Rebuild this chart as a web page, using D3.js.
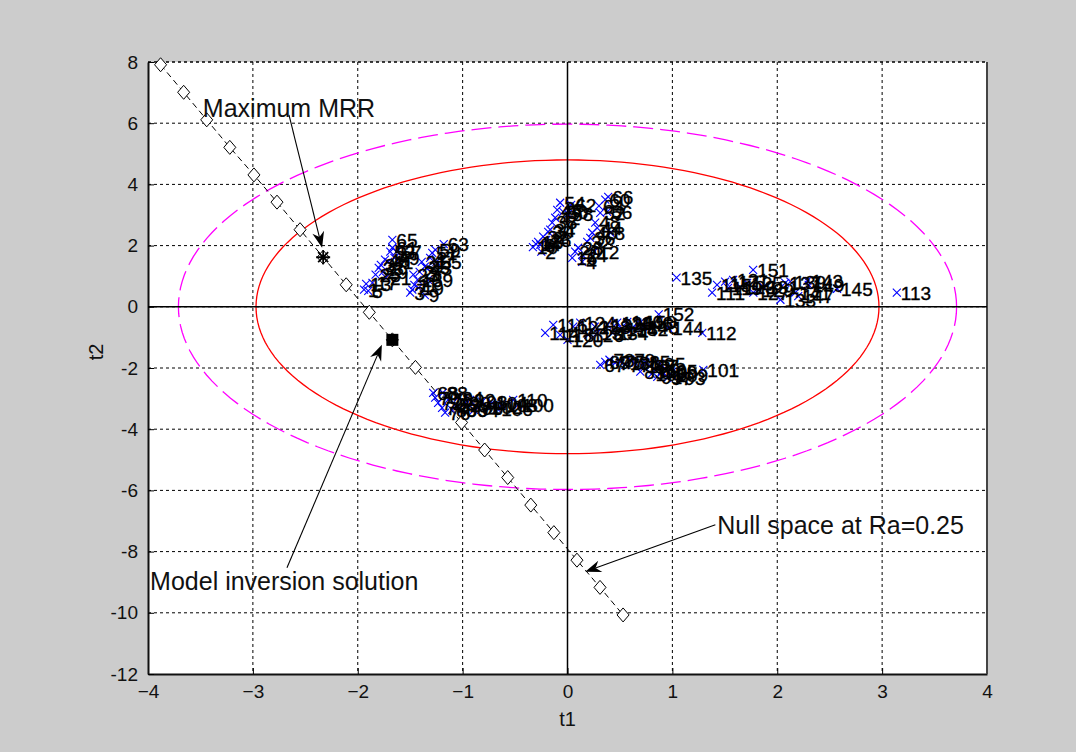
<!DOCTYPE html>
<html>
<head>
<meta charset="utf-8">
<script src="https://cdnjs.cloudflare.com/ajax/libs/d3/7.8.5/d3.min.js"></script>
<style>
body { margin: 0; background: #cccccc; }
text { font-family: "Liberation Sans", Arial, sans-serif; }
</style>
</head>
<body>
<script>
// Step 1: data
//= ================================

var xTicks = [-4, -3, -2, -1, 0, 1, 2, 3, 4];
var yTicks = [-12, -10, -8, -6, -4, -2, 0, 2, 4, 6, 8];

// [t1, t2, run number]
var clusterA = [
  [-1.94, 0.56, 1], [-1.50, 0.46, 3], [-1.90, 0.52, 5], [-1.48, 0.56, 7], [-1.36, 0.38, 9],
  [-1.46, 0.72, 11], [-1.92, 0.75, 13], [-1.43, 0.88, 15], [-1.86, 0.78, 17], [-1.42, 0.62, 19],
  [-1.73, 0.95, 21], [-1.47, 1.05, 23], [-1.83, 1.05, 25], [-1.41, 1.14, 27], [-1.76, 1.14, 29],
  [-1.39, 1.47, 31], [-1.80, 1.27, 33], [-1.36, 1.31, 35], [-1.78, 1.37, 37], [-1.33, 0.88, 39],
  [-1.71, 1.47, 41], [-1.34, 1.27, 43], [-1.74, 1.54, 45], [-1.31, 1.60, 47], [-1.65, 1.60, 49],
  [-1.29, 1.76, 51], [-1.69, 1.80, 53], [-1.25, 1.47, 55], [-1.63, 1.80, 57], [-1.26, 1.86, 59],
  [-1.67, 1.93, 61], [-1.18, 2.05, 63], [-1.67, 2.19, 65]
];
var clusterB = [
  [-0.25, 1.80, 2], [0.14, 1.47, 4], [-0.26, 2.03, 6], [0.41, 2.42, 8], [-0.33, 1.95, 10],
  [0.255, 1.80, 12], [-0.30, 2.05, 14], [0.045, 1.60, 16], [-0.28, 2.12, 18], [0.073, 1.80, 20],
  [-0.232, 2.29, 22], [0.14, 1.70, 24], [-0.203, 2.19, 26], [0.102, 1.93, 28], [-0.184, 2.45, 30],
  [0.188, 2.12, 32], [-0.165, 2.52, 34], [0.217, 2.25, 36], [-0.146, 2.75, 38], [0.236, 2.42, 40],
  [-0.117, 2.91, 42], [0.283, 2.58, 44], [-0.098, 3.17, 46], [0.264, 2.75, 48], [-0.041, 3.10, 50],
  [0.312, 3.07, 52], [-0.07, 3.40, 54], [0.379, 3.10, 56], [0.007, 3.04, 58], [0.36, 3.50, 60],
  [0.035, 3.33, 62], [0.30, 3.30, 64], [0.388, 3.59, 66]
];
var clusterE = [
  [0.312, -1.90, 67], [0.36, -1.80, 69], [0.455, -1.83, 71], [0.40, -1.73, 73], [0.503, -1.80, 75],
  [0.551, -1.90, 77], [0.598, -1.73, 79], [0.646, -1.83, 81], [0.694, -2.12, 83], [0.741, -1.80, 85],
  [0.789, -1.93, 87], [0.837, -2.06, 89], [0.856, -2.29, 91], [1.076, -2.32, 93], [0.885, -1.86, 95],
  [0.951, -2.32, 97], [0.999, -2.12, 99], [1.295, -2.06, 101], [0.80, -2.20, 103], [0.90, -2.10, 105],
  [0.72, -1.95, 107], [1.00, -2.25, 109]
];
var clusterF = [
  [-1.281, -2.81, 68], [-1.262, -2.97, 70], [-1.234, -3.14, 72], [-1.196, -3.30, 74], [-1.167, -3.46, 76],
  [-1.138, -3.04, 78], [-1.10, -3.37, 80], [-1.072, -3.20, 82], [-1.043, -2.97, 84], [-1.005, -3.37, 86],
  [-1.19, -2.81, 88], [-0.976, -3.14, 90], [-0.929, -3.04, 92], [-0.891, -3.37, 94], [-0.853, -3.30, 96],
  [-0.814, -3.10, 98], [-0.471, -3.20, 100], [-0.767, -3.27, 102], [-0.719, -3.14, 104], [-0.671, -3.33, 106],
  [-0.623, -3.20, 108], [-0.518, -3.04, 110]
];
var clusterC = [
  [1.379, 0.46, 111], [3.14, 0.46, 113], [1.426, 0.72, 115], [1.503, 0.82, 117], [1.531, 0.62, 119],
  [1.579, 0.88, 121], [1.646, 0.65, 123], [1.713, 0.78, 125], [1.772, 0.46, 127], [1.820, 0.56, 129],
  [1.867, 0.65, 131], [2.030, 0.23, 133], [1.04, 0.95, 135], [2.077, 0.78, 137], [2.125, 0.82, 139],
  [2.172, 0.46, 141], [2.287, 0.85, 143], [2.57, 0.59, 145], [2.20, 0.35, 147], [2.30, 0.72, 149],
  [1.77, 1.21, 151]
];
var clusterD = [
  [1.285, -0.85, 112], [-0.213, -0.85, 114], [-0.136, -0.59, 116], [-0.07, -0.92, 118], [0.0, -1.08, 120],
  [0.055, -0.65, 122], [0.121, -0.52, 124], [0.198, -0.92, 126], [0.26, -0.65, 128], [0.283, -0.85, 130],
  [0.379, -0.59, 132], [0.43, -0.85, 134], [0.474, -0.52, 136], [0.52, -0.72, 138], [0.570, -0.49, 140],
  [0.62, -0.72, 142], [0.96, -0.69, 144], [0.665, -0.52, 146], [0.72, -0.65, 148], [0.70, -0.49, 150],
  [0.87, -0.25, 152]
];

// null space at Ra=0.25
var nullSpaceT1 = [-3.88, -3.66, -3.44, -3.22, -2.99, -2.77, -2.55, -2.33, -2.11, -1.89, -1.67,
                   -1.45, -1.23, -1.01, -0.79, -0.57, -0.35, -0.13, 0.09, 0.31, 0.53];
var nullSpaceT2 = [7.91, 7.01, 6.11, 5.21, 4.31, 3.42, 2.52, 1.62, 0.72, -0.18, -1.08,
                   -1.98, -2.88, -3.78, -4.68, -5.58, -6.48, -7.38, -8.28, -9.17, -10.07];

var maxMRR = [-2.33, 1.62];
var inversion = [-1.67, -1.08];

// confidence ellipses [semi axis t1, semi axis t2]
var innerEllipse = [2.97, 4.80];
var outerEllipse = [3.71, 5.97];

var noteText = ["Maximum MRR", "Model inversion solution", "Null space at Ra=0.25"];
var notePos = [[-3.477, 6.21], [-3.98, -9.25], [1.428, -7.42]];
var arrowTail = [[-2.656, 6.27], [-2.675, -8.53], [1.41, -7.12]];
var arrowTip = [[-2.34, 1.93], [-1.77, -1.24], [0.169, -8.66]];

// Step 2: set up the chart
//= ================================
var width = 1076, height = 752;
var plot = {left: 148, right: 987, top: 62, bottom: 674};

var svg = d3.select("body")
    .append("svg")
    .attr("width", width)
    .attr("height", height)
    .style("background", "#cccccc");

var x = d3.scaleLinear().domain([-4, 4]).range([plot.left, plot.right]);
var y = d3.scaleLinear().domain([-12, 8]).range([plot.bottom, plot.top]);

svg.append("rect")
    .attr("x", plot.left)
    .attr("y", plot.top)
    .attr("width", plot.right - plot.left)
    .attr("height", plot.bottom - plot.top)
    .attr("fill", "white");

// grid (the top edge is the y=8 grid line)
svg.append("g").selectAll("line")
    .data(xTicks.slice(1, -1))
    .enter().append("line")
    .attr("x1", function(d) { return x(d); })
    .attr("x2", function(d) { return x(d); })
    .attr("y1", plot.top)
    .attr("y2", plot.bottom)
    .attr("stroke", "black")
    .attr("stroke-dasharray", "3,3");
svg.append("g").selectAll("line")
    .data(yTicks.slice(1))
    .enter().append("line")
    .attr("x1", plot.left)
    .attr("x2", plot.right)
    .attr("y1", function(d) { return y(d); })
    .attr("y2", function(d) { return y(d); })
    .attr("stroke", "black")
    .attr("stroke-width", function(d) { return d == 8 ? 1.6 : 1; })
    .attr("stroke-dasharray", "3,3");

// axes
var xAxis = svg.append("g")
    .attr("transform", "translate(0," + plot.bottom + ")")
    .call(d3.axisBottom(x).tickValues(xTicks).tickSizeInner(-6).tickSizeOuter(0).tickPadding(11)
      .tickFormat(d3.format("d")));
var yAxis = svg.append("g")
    .attr("transform", "translate(" + plot.left + ",0)")
    .call(d3.axisLeft(y).tickValues(yTicks).tickSizeInner(-6).tickSizeOuter(0).tickPadding(10)
      .tickFormat(function(d) { return d < 0 ? "-" + Math.abs(d) : d; }));
xAxis.selectAll("text").style("font-size", "19px").attr("fill", "#111");
yAxis.selectAll("text").style("font-size", "19px").attr("fill", "#111");
svg.selectAll(".domain").attr("stroke", "#111").attr("stroke-width", 2);
svg.append("line")
    .attr("x1", plot.right).attr("x2", plot.right)
    .attr("y1", plot.top).attr("y2", plot.bottom)
    .attr("stroke", "#444").attr("stroke-width", 2);

// ellipses
function ellipse(r) {
  return d3.range(0, 361, 2).map(function(a) {
    var t = a * Math.PI / 180;
    return [r[0] * Math.cos(t), r[1] * Math.sin(t)];
  });
}
var curve = d3.line()
    .x(function(d) { return x(d[0]); })
    .y(function(d) { return y(d[1]); });
svg.append("path")
    .attr("d", curve(ellipse(outerEllipse)))
    .attr("fill", "none")
    .attr("stroke", "#ff00ff")
    .attr("stroke-width", 1.3)
    .attr("stroke-dasharray", "20,7");
svg.append("path")
    .attr("d", curve(ellipse(innerEllipse)))
    .attr("fill", "none")
    .attr("stroke", "#ff0000")
    .attr("stroke-width", 1.3);

// zero lines
svg.append("line")
    .attr("x1", plot.left).attr("x2", plot.right)
    .attr("y1", y(0)).attr("y2", y(0))
    .attr("stroke", "black").attr("stroke-width", 1.5);
svg.append("line")
    .attr("x1", x(0)).attr("x2", x(0))
    .attr("y1", plot.top).attr("y2", plot.bottom)
    .attr("stroke", "black").attr("stroke-width", 1.5);

// null space line with diamonds
var nullSpace = nullSpaceT1.map(function(d, i) { return [d, nullSpaceT2[i]]; });
svg.append("path")
    .attr("d", curve(nullSpace))
    .attr("fill", "none")
    .attr("stroke", "black")
    .attr("stroke-dasharray", "6,4");
svg.append("g").selectAll("path")
    .data(nullSpace)
    .enter().append("path")
    .attr("transform", function(d) { return "translate(" + x(d[0]) + "," + y(d[1]) + ")"; })
    .attr("d", "M0,-7L6,0L0,7L-6,0Z")
    .attr("fill", "white")
    .attr("stroke", "black");

// scores
var points = clusterA.concat(clusterB, clusterE, clusterF, clusterC, clusterD)
    .sort(function(a, b) { return a[2] - b[2]; });
svg.append("g").selectAll("path")
    .data(points)
    .enter().append("path")
    .attr("transform", function(d) { return "translate(" + x(d[0]) + "," + y(d[1]) + ")"; })
    .attr("d", "M-4,-4L4,4M-4,4L4,-4")
    .attr("stroke", "#0000ff")
    .attr("stroke-width", 1.1);
svg.append("g").selectAll("text")
    .data(points)
    .enter().append("text")
    .attr("x", function(d) { return x(d[0]) + 4; })
    .attr("y", function(d) { return y(d[1]); })
    .attr("dy", "0.36em")
    .style("font-size", "19px")
    .attr("fill", "black")
    .attr("stroke", "black")
    .attr("stroke-width", 0.35)
    .text(function(d) { return d[2]; });

// maximum MRR (asterisk) and model inversion solution (square)
var star = svg.append("g")
    .attr("transform", "translate(" + x(maxMRR[0]) + "," + y(maxMRR[1]) + ")");
star.append("path")
    .attr("d", "M-7,0L7,0M0,-7L0,7M-5,-5L5,5M-5,5L5,-5")
    .attr("stroke", "black")
    .attr("stroke-width", 1.8);
svg.append("rect")
    .attr("x", x(inversion[0]) - 6)
    .attr("y", y(inversion[1]) - 6)
    .attr("width", 12)
    .attr("height", 12)
    .attr("fill", "black");

// annotations
noteText.forEach(function(t, i) {
  var x1 = x(arrowTail[i][0]), y1 = y(arrowTail[i][1]);
  var x2 = x(arrowTip[i][0]), y2 = y(arrowTip[i][1]);
  var a = Math.atan2(y2 - y1, x2 - x1), c = Math.cos(a), s = Math.sin(a);
  var L = 16, W = 6, N = 11;
  svg.append("line")
      .attr("x1", x1).attr("y1", y1)
      .attr("x2", x2 - c * N).attr("y2", y2 - s * N)
      .attr("stroke", "black").attr("stroke-width", 1.1);
  svg.append("path")
      .attr("d", "M" + x2 + "," + y2 +
        "L" + (x2 - c * L - s * W) + "," + (y2 - s * L + c * W) +
        "L" + (x2 - c * N) + "," + (y2 - s * N) +
        "L" + (x2 - c * L + s * W) + "," + (y2 - s * L - c * W) + "Z")
      .attr("fill", "black");
  svg.append("text")
      .attr("x", x(notePos[i][0]))
      .attr("y", y(notePos[i][1]))
      .style("font-size", "25px")
      .attr("fill", "#111")
      .text(t);
});

// axis labels
svg.append("text")
    .attr("x", x(0))
    .attr("y", 726)
    .attr("text-anchor", "middle")
    .style("font-size", "20px")
    .attr("fill", "#111")
    .text("t1");
svg.append("text")
    .attr("transform", "translate(103,352) rotate(-90)")
    .attr("text-anchor", "middle")
    .style("font-size", "20px")
    .attr("fill", "#111")
    .text("t2");
</script>
</body>
</html>
